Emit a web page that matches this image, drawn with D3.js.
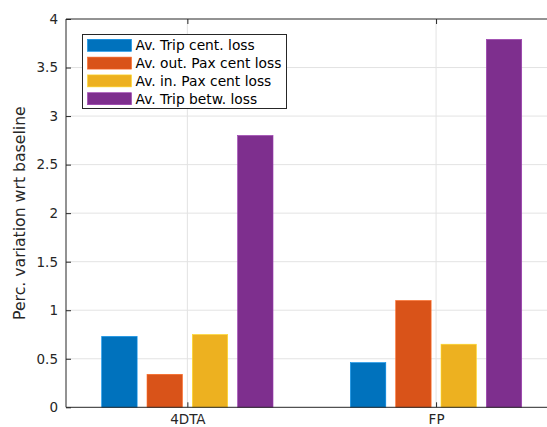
<!DOCTYPE html>
<html><head><meta charset="utf-8">
<script src="https://cdn.jsdelivr.net/npm/d3@7"></script>
<style>body{margin:0;background:#fff}svg{display:block}</style>
</head><body><svg id="c" width="547" height="427"></svg>
<script>
const categories = ["4DTA", "FP"];
const seriesNames = ["Av. Trip cent. loss", "Av. out. Pax cent loss", "Av. in. Pax cent loss", "Av. Trip betw. loss"];
const tripCent = [0.73, 0.46];
const outPaxCent = [0.34, 1.10];
const inPaxCent = [0.75, 0.65];
const tripBetw = [2.80, 3.79];
const yTicks = [0, 0.5, 1, 1.5, 2, 2.5, 3, 3.5, 4];
const colors = ["#0072BD", "#D95319", "#EDB120", "#7E2F8E"];
const series = [tripCent, outPaxCent, inPaxCent, tripBetw];

const svg = d3.select("#c");
const L = 66, T = 19, B = 407.3;
const font = "DejaVu Sans, sans-serif";
const x = d3.scaleLinear().domain([0.512, 2.55]).range([L, L + (2.55-0.512)*248.7]);
const y = d3.scaleLinear().domain([0, 4]).range([B, T]);
const barOffsets = [-1.5, -0.5, 0.5, 1.5];
const step = 45.3 / 248.7, bw = 35.4 / 248.7;

// grid
const g = svg.append("g");
g.selectAll("line.hg").data(yTicks.slice(1, -1)).enter().append("line")
  .attr("x1", L).attr("x2", 547).attr("y1", d => y(d)).attr("y2", d => y(d))
  .attr("stroke", "#e3e3e3").attr("stroke-width", 1);
g.selectAll("line.vg").data([1, 2]).enter().append("line")
  .attr("x1", d => x(d)).attr("x2", d => x(d)).attr("y1", T).attr("y2", B)
  .attr("stroke", "#e3e3e3").attr("stroke-width", 1);

// bars
series.forEach((s, si) => {
  svg.append("g").selectAll("rect").data(s).enter().append("rect")
    .attr("x", (d, i) => x(i + 1 + barOffsets[si] * step - bw / 2))
    .attr("width", x(1 + bw) - x(1))
    .attr("y", d => y(d)).attr("height", d => B - y(d))
    .attr("fill", colors[si])
    .attr("stroke", d3.color(colors[si]).brighter(0.6)).attr("stroke-width", 0.6);
});

// axes
const yAxis = d3.axisLeft(y).tickValues(yTicks).tickSize(-5).tickPadding(8).tickFormat(d3.format("~g"));
const ya = svg.append("g").attr("transform", `translate(${L},0)`).call(yAxis);
ya.select(".domain").remove();
ya.selectAll("text").attr("font-family", font).attr("font-size", 13.5).attr("fill", "#262626");
ya.selectAll("line").attr("stroke", "#262626");
const xAxis = d3.axisBottom(x).tickValues([1, 2]).tickSize(-5).tickPadding(7).tickFormat(d => categories[d - 1]);
const xa = svg.append("g").attr("transform", `translate(0,${B})`).call(xAxis);
xa.select(".domain").remove();
xa.selectAll("text").attr("font-family", font).attr("font-size", 13.5).attr("fill", "#262626");
xa.selectAll("line").attr("stroke", "#262626");
const xt = d3.axisTop(x).tickValues([1, 2]).tickSize(-5).tickFormat("");
const xta = svg.append("g").attr("transform", `translate(0,${T})`).call(xt);
xta.select(".domain").remove();
xta.selectAll("line").attr("stroke", "#262626");

svg.append("line").attr("x1", L).attr("x2", L).attr("y1", T).attr("y2", B).attr("stroke", "#262626");
svg.append("line").attr("x1", L).attr("x2", 547).attr("y1", B).attr("y2", B).attr("stroke", "#262626");
svg.append("line").attr("x1", L).attr("x2", 547).attr("y1", T).attr("y2", T).attr("stroke", "#262626");

// y label
svg.append("text").attr("transform", `translate(25,${(T + B) / 2}) rotate(-90)`)
  .attr("text-anchor", "middle").attr("font-family", font).attr("font-size", 15.7).attr("fill", "#262626")
  .text("Perc. variation wrt baseline");

// legend
const lg = svg.append("g").attr("transform", "translate(82.5,34.5)");
lg.append("rect").attr("width", 204).attr("height", 74).attr("fill", "#fff").attr("stroke", "#262626").attr("stroke-width", 1);
seriesNames.forEach((n, i) => {
  const cy = 10.8 + i * 17.8;
  lg.append("rect").attr("x", 5).attr("y", cy - 6).attr("width", 44).attr("height", 12)
    .attr("fill", colors[i]).attr("stroke", d3.color(colors[i]).brighter(0.6)).attr("stroke-width", 0.6);
  lg.append("text").attr("x", 53).attr("y", cy).attr("dy", "0.35em")
    .attr("font-family", font).attr("font-size", 13.8).attr("fill", "#000").text(n);
});
</script></body></html>
